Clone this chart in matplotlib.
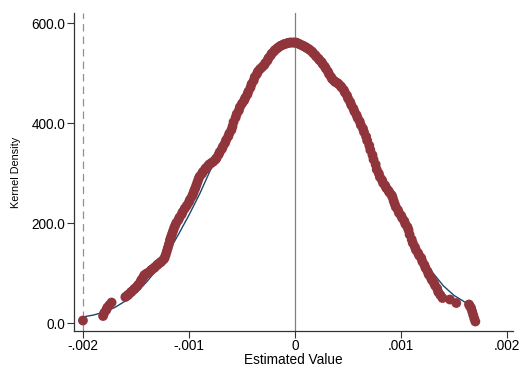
import matplotlib
matplotlib.use("Agg")
import matplotlib.pyplot as plt

plt.rcParams["font.family"] = ["Liberation Sans", "DejaVu Sans"]

# estimated values (scatter), left to right
est_x = [
    -0.00200, -0.00181, -0.00180, -0.00178, -0.00177, -0.00175, -0.00173,
    -0.00160, -0.00158, -0.00157, -0.00155, -0.00154, -0.00152, -0.00151,
    -0.00149, -0.00148, -0.00146, -0.00145, -0.00143, -0.00142, -0.00140,
    -0.00138, -0.00136, -0.00135, -0.00133, -0.00132, -0.00130, -0.00129,
    -0.00127, -0.00126, -0.00124, -0.00123, -0.00122, -0.00121, -0.00120,
    -0.00119, -0.00118, -0.00117, -0.00116, -0.00115, -0.00114, -0.00113,
    -0.00112, -0.00110, -0.00109, -0.00107, -0.00106, -0.00104, -0.00102,
    -0.00100, -0.00099, -0.00097, -0.00096, -0.00095, -0.00094, -0.00093,
    -0.00092, -0.00091, -0.00090, -0.00088, -0.00087, -0.00085, -0.00084,
    -0.00082, -0.00081, -0.00079, -0.00077, -0.00075, -0.00074, -0.00072,
    -0.00071, -0.00069, -0.00068, -0.00066, -0.00065, -0.00063, -0.00062,
    -0.00060, -0.00059, -0.00058, -0.00056, -0.00055, -0.00053, -0.00052,
    -0.00050, -0.00048, -0.00047, -0.00045, -0.00044, -0.00042, -0.00041,
    -0.00039, -0.00038, -0.00036, -0.00035, -0.00033, -0.00031, -0.00029,
    -0.00028, -0.00026, -0.00025, -0.00023, -0.00022, -0.00020, -0.00019,
    -0.00017, -0.00016, -0.00014, -0.00013, -0.00011, -0.00010, -0.00008,
    -0.00007, -0.00005, -0.00004, -0.00002, -0.00001,
    0.00001, 0.00002, 0.00004, 0.00005, 0.00007, 0.00008, 0.00010,
    0.00011, 0.00013, 0.00014, 0.00016, 0.00017, 0.00019, 0.00020,
    0.00022, 0.00023, 0.00025, 0.00026, 0.00028, 0.00029, 0.00031,
    0.00032, 0.00034, 0.00035, 0.00037, 0.00038, 0.00040, 0.00041,
    0.00043, 0.00044, 0.00046, 0.00047, 0.00049, 0.00050, 0.00052,
    0.00053, 0.00055, 0.00056, 0.00058, 0.00059, 0.00061, 0.00062,
    0.00064, 0.00065, 0.00067, 0.00068, 0.00070, 0.00071, 0.00073,
    0.00074, 0.00076, 0.00077, 0.00079, 0.00080, 0.00082, 0.00083,
    0.00085, 0.00086, 0.00088, 0.00089, 0.00091, 0.00092, 0.00093,
    0.00094, 0.00095, 0.00097, 0.00098, 0.00100, 0.00101, 0.00103,
    0.00104, 0.00106, 0.00107, 0.00108, 0.00110, 0.00111, 0.00113,
    0.00114, 0.00116, 0.00117, 0.00119, 0.00120, 0.00122, 0.00123,
    0.00125, 0.00126, 0.00128, 0.00129, 0.00131, 0.00132, 0.00134,
    0.00135, 0.00137, 0.00139, 0.00146, 0.00152, 0.00164, 0.00165,
    0.00166, 0.00167, 0.00168, 0.00169, 0.00170,
]
est_density = [
    5, 14, 20, 26, 31, 36, 41,
    52, 55, 57, 61, 63, 67, 69,
    73, 76, 81, 86, 92, 96, 99,
    101, 105, 107, 110, 112, 116, 118,
    121, 123, 127, 130, 136, 143, 150,
    157, 166, 172, 178, 184, 190, 195,
    200, 206, 211, 217, 222, 229, 235,
    242, 247, 254, 259, 265, 270, 276,
    282, 288, 293, 298, 302, 307, 310,
    314, 317, 320, 323, 327, 330, 337,
    342, 348, 353, 360, 366, 373, 379,
    386, 393, 402, 411, 418, 425, 432,
    439, 445, 450, 457, 463, 471, 478,
    485, 492, 498, 503, 508, 512, 516,
    520, 525, 530, 535, 539, 543, 546,
    549, 551, 554, 555, 557, 558, 559,
    560, 561, 561, 561, 561,
    561, 560, 558, 557, 555, 554, 552,
    550, 548, 546, 543, 540, 536, 533,
    529, 526, 522, 518, 513, 509, 503,
    498, 492, 488, 484, 482, 480, 478,
    474, 471, 466, 461, 455, 449, 442,
    436, 429, 423, 416, 410, 403, 396,
    389, 382, 373, 365, 355, 346, 336,
    327, 317, 307, 299, 292, 286, 280,
    275, 270, 265, 261, 256, 251, 244,
    238, 232, 226, 220, 215, 210, 204,
    198, 192, 186, 177, 167, 160, 152,
    146, 140, 135, 130, 123, 116, 110,
    103, 97, 91, 86, 80, 75, 69,
    62, 56, 50, 47, 40, 37, 33,
    30, 23, 16, 9, 3,
]

# kernel density line
kd_x = [
    -0.0020, -0.0019, -0.0018, -0.0017, -0.0016, -0.0015, -0.0014, -0.0013,
    -0.0012, -0.0011, -0.0010, -0.0009, -0.0008, -0.0007, -0.0006, -0.0005,
    -0.0004, -0.0003, -0.0002, -0.0001, 0.0, 0.0001, 0.0002, 0.0003,
    0.0004, 0.0005, 0.0006, 0.0007, 0.0008, 0.0009, 0.0010, 0.0011,
    0.0012, 0.0013, 0.0014, 0.0015, 0.0016, 0.00163,
]
kd_y = [
    12, 16, 22, 31, 44, 61, 82, 108,
    140, 177, 216, 258, 305, 352, 395, 437,
    475, 508, 535, 553, 559, 553, 536, 510,
    478, 438, 394, 350, 306, 258, 210, 168,
    132, 100, 74, 55, 42, 39,
]

x_ticks = [-0.002, -0.001, 0, 0.001, 0.002]
x_tick_labels = ["-.002", "-.001", "0", ".001", ".002"]
y_ticks = [0, 200, 400, 600]
y_tick_labels = ["0.0", "200.0", "400.0", "600.0"]

fig = plt.figure(figsize=(5.28, 3.84), dpi=100)
fig.patch.set_facecolor("white")
ax = fig.add_axes([0.140, 0.138, 0.832, 0.828])

ax.axvline(0, color="#808080", lw=0.9, zorder=1)
ax.axvline(-0.002, color="#909090", lw=0.9, ls=(0, (6, 4)), zorder=1)

ax.plot(kd_x, kd_y, color="#1a476f", lw=1.0, zorder=2)
ax.scatter(est_x, est_density, s=50, color="#90353b", edgecolors="none", zorder=3)

ax.set_xlim(-0.002085, 0.002057)
ax.set_ylim(-16, 620)
ax.set_xticks(x_ticks)
ax.set_xticklabels(x_tick_labels)
ax.set_yticks(y_ticks)
ax.set_yticklabels(y_tick_labels)
ax.tick_params(axis="both", labelsize=9.8, length=5, width=0.8, color="#333333", pad=1)

for side in ["top", "right"]:
    ax.spines[side].set_visible(False)
for side in ["left", "bottom"]:
    ax.spines[side].set_color("#333333")
    ax.spines[side].set_linewidth(0.9)

ax.set_xlabel("Estimated Value", fontsize=9.8, labelpad=0)
ax.set_ylabel("Kernel Density", fontsize=7.8, labelpad=8)

fig.savefig("out.png", dpi=100)
